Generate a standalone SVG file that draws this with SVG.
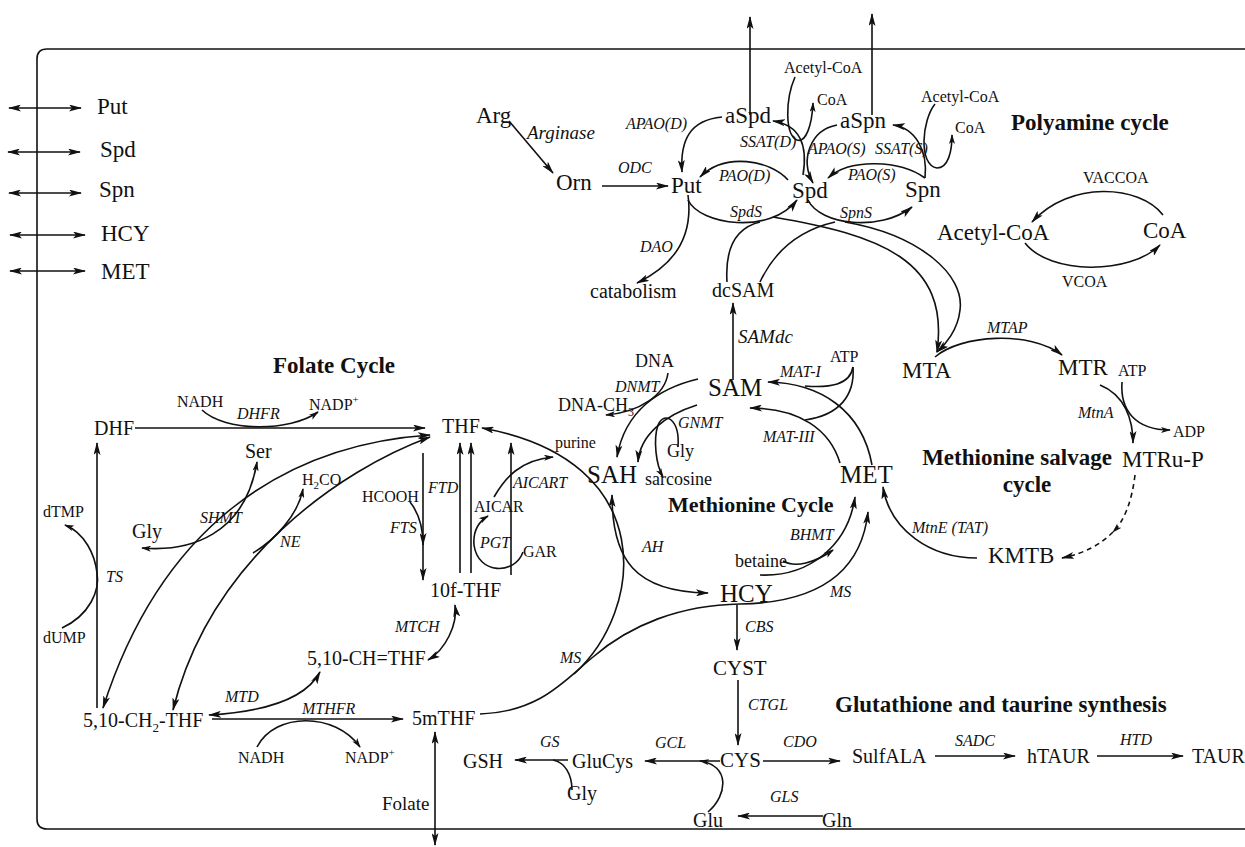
<svg xmlns="http://www.w3.org/2000/svg" width="1245" height="847" viewBox="0 0 1245 847">
<defs>
<style>
text{font-family:"Liberation Serif","Times New Roman",serif;fill:#111}
.n{font-size:23px}
.m{font-size:20px}
.b{font-size:25px}
.s{font-size:16px}
.r{font-size:18px}
.e{font-size:16px;font-style:italic}
.t{font-size:23px;font-weight:bold}
#connectors path{fill:none;stroke:#111;stroke-width:1.6}
.ae{marker-end:url(#ah)}
.ab{marker-start:url(#ah);marker-end:url(#ah)}
.se{marker-end:url(#sh)}
.sb{marker-start:url(#sh);marker-end:url(#sh)}
</style>
<marker id="ah" viewBox="0 0 13 7" refX="12" refY="3.5" markerWidth="13" markerHeight="7" markerUnits="userSpaceOnUse" orient="auto-start-reverse"><path d="M0,0 L13,3.5 L0,7 L3,3.5 z" fill="#111"/></marker>
<marker id="sh" viewBox="0 0 10 6" refX="9" refY="3" markerWidth="10" markerHeight="6" markerUnits="userSpaceOnUse" orient="auto-start-reverse"><path d="M0,0 L10,3 L0,6 L2.5,3 z" fill="#111"/></marker>
</defs>
<rect width="1245" height="847" fill="#fff"/>
<path d="M1250,49 H47 Q37,49 37,59 V819 Q37,829 47,829 H1250" fill="none" stroke="#111" stroke-width="1.6"/>

<g id="connectors">
<path class="ab" d="M9,108 H81"/>
<path class="ab" d="M8,152 H80"/>
<path class="ab" d="M9,193 H81"/>
<path class="ab" d="M10,235 H85"/>
<path class="ab" d="M10,271 H85"/>
<path class="ae" d="M750,115 V17"/>
<path class="ae" d="M872,115 V14"/>
<path class="ae" d="M509,121 L553,173"/>
<path class="ae" d="M602,186 H668"/>
<path class="ae" d="M722,117 C690,120 680,140 682,172"/>
<path class="ae" d="M788,180 C770,160 725,152 700,177"/>
<path class="ae" d="M688,200 C700,225 770,235 797,200"/>
<path class="ae" d="M803,175 C808,145 800,125 773,121"/>
<path class="se" d="M795,77 C785,100 785,135 797,140 C806,143 812,125 813,103"/>
<path class="ae" d="M837,125 C810,130 800,160 813,183"/>
<path class="ae" d="M925,178 C928,150 915,128 893,125"/>
<path class="se" d="M935,104 C922,120 918,165 937,168 C948,168 952,152 952,135"/>
<path class="ae" d="M925,178 C900,160 850,158 828,178"/>
<path class="ae" d="M808,200 C820,225 880,232 912,207"/>
<path d="M727,282 C725,250 735,228 760,222"/>
<path d="M760,282 C775,250 800,230 835,222"/>
<path class="ae" d="M773,217 C880,235 950,260 937,352"/>
<path class="ae" d="M845,222 C920,235 965,275 960,310 C958,330 945,345 937,352"/>
<path class="ae" d="M688,195 C692,225 685,260 637,283"/>
<path class="ae" d="M733,380 V303"/>
<path class="ae" d="M1163,215 C1140,185 1070,180 1032,222"/>
<path class="ae" d="M1025,243 C1050,275 1130,275 1160,245"/>
<path class="ae" d="M935,357 C960,335 1030,330 1062,355"/>
<path class="ae" d="M1100,385 C1125,395 1133,420 1133,443"/>
<path class="se" d="M1122,382 C1120,410 1135,430 1170,430"/>
<path class="se" stroke-dasharray="5,4" d="M1135,475 C1132,500 1125,520 1113,532"/>
<path class="ae" stroke-dasharray="5,4" d="M1113,532 C1100,545 1085,553 1062,558"/>
<path class="ae" d="M977,558 C930,558 890,530 883,487"/>
<path class="ae" d="M872,465 C862,410 820,383 768,382"/>
<path d="M853,367 C850,385 830,388 805,386"/>
<path d="M853,367 C855,395 840,415 805,420"/>
<path class="ae" d="M840,463 C830,430 800,408 750,408"/>
<path class="ae" d="M698,379 C660,388 625,410 617,457"/>
<path class="se" d="M668,373 C665,395 640,412 606,415"/>
<path class="ae" d="M697,405 C665,415 640,435 638,462"/>
<path class="se" d="M678,447 C680,420 665,410 658,425 C653,440 656,465 663,477"/>
<path class="ab" d="M612,495 C612,560 635,592 708,593"/>
<path class="ae" d="M760,575 C810,577 848,545 855,497"/>
<path class="se" d="M783,561 C795,568 815,563 833,550"/>
<path class="ae" d="M480,714 C540,712 565,680 593,657 C630,625 680,605 740,604 C800,603 860,585 868,512"/>
<path class="ae" d="M574,674 C645,610 660,460 482,428"/>
<path class="ae" d="M737,605 V650"/>
<path class="ae" d="M738,680 V745"/>
<path class="ae" d="M720,761 H645"/>
<path class="se" d="M708,812 C728,795 730,765 700,761"/>
<path class="ae" d="M568,760 H515"/>
<path d="M572,790 C572,775 565,762 553,760"/>
<path class="ae" d="M763,761 H840"/>
<path class="ae" d="M935,756 H1015"/>
<path class="ae" d="M1097,756 H1183"/>
<path class="ae" d="M823,816 H738"/>
<path class="ab" d="M435,732 V845"/>
<path class="ae" d="M135,428 H425"/>
<path class="se" d="M202,410 C225,432 290,432 318,412"/>
<path class="ab" d="M103,708 C160,530 280,445 430,435"/>
<path class="ab" d="M173,710 C210,560 340,470 430,437"/>
<path class="sb" d="M142,548 C190,552 245,535 257,462"/>
<path class="se" d="M253,553 C275,540 298,515 303,489"/>
<path class="ae" d="M410,502 C418,512 423,525 423,545"/>
<path class="ae" d="M423,453 V580"/>
<path class="ae" d="M460,573 V443"/>
<path class="ae" d="M471,573 V443"/>
<path class="ae" d="M511,575 V443"/>
<path class="se" d="M494,497 C505,478 520,460 553,457"/>
<path class="se" d="M523,552 C515,575 478,575 474,545 C473,532 478,522 488,516"/>
<path class="ae" d="M97,708 V443"/>
<path class="se" d="M62,628 C90,615 100,590 97,573 C95,555 85,533 65,525"/>
<path class="ab" d="M455,605 C458,625 445,650 428,660"/>
<path class="ab" d="M209,715 C260,712 305,700 320,672"/>
<path class="ae" d="M212,719 H403"/>
<path class="se" d="M257,747 C275,712 335,712 360,747"/>
</g>

<g id="ext-put"><text class="n" x="97" y="114">Put</text></g>
<g id="ext-spd"><text class="n" x="100" y="157">Spd</text></g>
<g id="ext-spn"><text class="n" x="99" y="197">Spn</text></g>
<g id="ext-hcy"><text class="n" x="101" y="241">HCY</text></g>
<g id="ext-met"><text class="n" x="101" y="279">MET</text></g>

<g id="arg"><text class="n" x="476" y="123">Arg</text></g>
<g id="orn"><text class="n" x="556" y="190">Orn</text></g>
<g id="put"><text class="n" x="671" y="193">Put</text></g>
<g id="aspd"><text class="n" x="725" y="123">aSpd</text></g>
<g id="spd"><text class="n" x="792" y="198">Spd</text></g>
<g id="aspn"><text class="n" x="840" y="128">aSpn</text></g>
<g id="spn"><text class="n" x="905" y="197">Spn</text></g>
<g id="accoa1"><text class="s" x="784" y="73">Acetyl-CoA</text></g>
<g id="coa1"><text class="s" x="817" y="105">CoA</text></g>
<g id="accoa2"><text class="s" x="921" y="102">Acetyl-CoA</text></g>
<g id="coa2"><text class="s" x="955" y="133">CoA</text></g>
<g id="catabolism"><text class="m" x="590" y="298">catabolism</text></g>
<g id="dcsam"><text class="m" x="712" y="297">dcSAM</text></g>
<g id="accoa3"><text class="n" x="937" y="240">Acetyl-CoA</text></g>
<g id="coa3"><text class="n" x="1143" y="238">CoA</text></g>
<g id="mta"><text class="n" x="902" y="378">MTA</text></g>
<g id="mtr"><text class="n" x="1058" y="375">MTR</text></g>
<g id="atp2"><text class="s" x="1118" y="376">ATP</text></g>
<g id="adp"><text class="s" x="1173" y="437">ADP</text></g>
<g id="mtrup"><text class="n" x="1122" y="467">MTRu-P</text></g>
<g id="kmtb"><text class="n" x="988" y="563">KMTB</text></g>
<g id="met"><text class="b" x="840" y="483">MET</text></g>
<g id="atp1"><text class="s" x="830" y="362">ATP</text></g>
<g id="sam"><text class="b" x="708" y="396">SAM</text></g>
<g id="dna"><text class="r" x="635" y="367">DNA</text></g>
<g id="dnach3"><text class="r" x="558" y="411">DNA-CH<tspan dy="5" font-size="12">3</tspan></text></g>
<g id="gly1"><text class="r" x="667" y="457">Gly</text></g>
<g id="sarcosine"><text class="r" x="645" y="485">sarcosine</text></g>
<g id="sah"><text class="b" x="587" y="483">SAH</text></g>
<g id="purine"><text class="s" x="555" y="448">purine</text></g>
<g id="betaine"><text class="r" x="735" y="567">betaine</text></g>
<g id="hcy"><text class="b" x="720" y="602">HCY</text></g>

<g id="nadh1"><text class="s" x="177" y="407">NADH</text></g>
<g id="nadp1"><text class="s" x="309" y="410">NADP<tspan dy="-7" font-size="11">+</tspan></text></g>
<g id="dhf"><text class="m" x="94" y="435">DHF</text></g>
<g id="thf"><text class="m" x="442" y="433">THF</text></g>
<g id="ser"><text class="m" x="245" y="458">Ser</text></g>
<g id="h2co"><text class="s" x="302" y="485">H<tspan dy="4" font-size="11">2</tspan><tspan dy="-4">CO</tspan></text></g>
<g id="hcooh"><text class="s" x="362" y="502">HCOOH</text></g>
<g id="dtmp"><text class="s" x="43" y="517">dTMP</text></g>
<g id="gly2"><text class="m" x="132" y="538">Gly</text></g>
<g id="aicar"><text class="s" x="474" y="512">AICAR</text></g>
<g id="gar"><text class="s" x="523" y="557">GAR</text></g>
<g id="f10thf"><text class="m" x="430" y="597">10f-THF</text></g>
<g id="dump"><text class="s" x="43" y="643">dUMP</text></g>
<g id="chthf"><text class="m" x="307" y="665">5,10-CH=THF</text></g>
<g id="ch2thf"><text class="m" x="83" y="727">5,10-CH<tspan dy="5" font-size="13">2</tspan><tspan dy="-5">-THF</tspan></text></g>
<g id="mthf"><text class="m" x="412" y="725">5mTHF</text></g>
<g id="nadh2"><text class="s" x="238" y="763">NADH</text></g>
<g id="nadp2"><text class="s" x="345" y="763">NADP<tspan dy="-7" font-size="11">+</tspan></text></g>
<g id="folate"><text class="m" x="382" y="810" style="font-size:19px">Folate</text></g>

<g id="cyst"><text class="m" x="713" y="675" style="font-size:21px">CYST</text></g>
<g id="cys"><text class="m" x="720" y="767" style="font-size:21px">CYS</text></g>
<g id="gsh"><text class="m" x="463" y="768">GSH</text></g>
<g id="glucys"><text class="m" x="572" y="768">GluCys</text></g>
<g id="gly3"><text class="m" x="567" y="800">Gly</text></g>
<g id="glu"><text class="m" x="693" y="827">Glu</text></g>
<g id="gln"><text class="m" x="822" y="827">Gln</text></g>
<g id="sulfala"><text class="m" x="852" y="763">SulfALA</text></g>
<g id="htaur"><text class="m" x="1027" y="763">hTAUR</text></g>
<g id="taur"><text class="m" x="1192" y="763">TAUR</text></g>

<g id="titles">
<text class="t" x="1011" y="130">Polyamine cycle</text>
<text class="t" x="273" y="373">Folate Cycle</text>
<text class="t" x="668" y="512" style="font-size:22px">Methionine Cycle</text>
<text class="t" x="1017" y="465" text-anchor="middle">Methionine salvage</text>
<text class="t" x="1027" y="492" text-anchor="middle">cycle</text>
<text class="t" x="835" y="712">Glutathione and taurine synthesis</text>
</g>

<g id="labels">
<text class="e" x="527" y="139" style="font-size:19px">Arginase</text>
<text class="e" x="618" y="173">ODC</text>
<text class="e" x="626" y="129">APAO(D)</text>
<text class="e" x="740" y="147">SSAT(D)</text>
<text class="e" x="719" y="181">PAO(D)</text>
<text class="e" x="730" y="217">SpdS</text>
<text class="e" x="808" y="154">APAO(S)</text>
<text class="e" x="875" y="154">SSAT(S)</text>
<text class="e" x="848" y="180">PAO(S)</text>
<text class="e" x="840" y="218">SpnS</text>
<text class="s" x="1083" y="183">VACCOA</text>
<text class="s" x="1062" y="287">VCOA</text>
<text class="e" x="640" y="252">DAO</text>
<text class="e" x="738" y="343" style="font-size:19px">SAMdc</text>
<text class="e" x="987" y="333">MTAP</text>
<text class="e" x="1078" y="418">MtnA</text>
<text class="e" x="912" y="533">MtnE (TAT)</text>
<text class="e" x="780" y="377">MAT-I</text>
<text class="e" x="763" y="442">MAT-III</text>
<text class="e" x="615" y="392">DNMT</text>
<text class="e" x="678" y="428">GNMT</text>
<text class="e" x="790" y="540">BHMT</text>
<text class="e" x="560" y="663">MS</text>
<text class="e" x="830" y="597">MS</text>
<text class="e" x="642" y="552">AH</text>
<text class="e" x="237" y="419">DHFR</text>
<text class="e" x="428" y="493">FTD</text>
<text class="e" x="390" y="533">FTS</text>
<text class="e" x="200" y="523">SHMT</text>
<text class="e" x="280" y="547">NE</text>
<text class="e" x="513" y="488">AICART</text>
<text class="e" x="480" y="548">PGT</text>
<text class="e" x="106" y="582">TS</text>
<text class="e" x="395" y="632">MTCH</text>
<text class="e" x="225" y="702">MTD</text>
<text class="e" x="302" y="714">MTHFR</text>
<text class="e" x="745" y="632">CBS</text>
<text class="e" x="748" y="710">CTGL</text>
<text class="e" x="540" y="747">GS</text>
<text class="e" x="655" y="748">GCL</text>
<text class="e" x="783" y="747">CDO</text>
<text class="e" x="955" y="746">SADC</text>
<text class="e" x="1120" y="745">HTD</text>
<text class="e" x="770" y="802">GLS</text>
</g>
</svg>
